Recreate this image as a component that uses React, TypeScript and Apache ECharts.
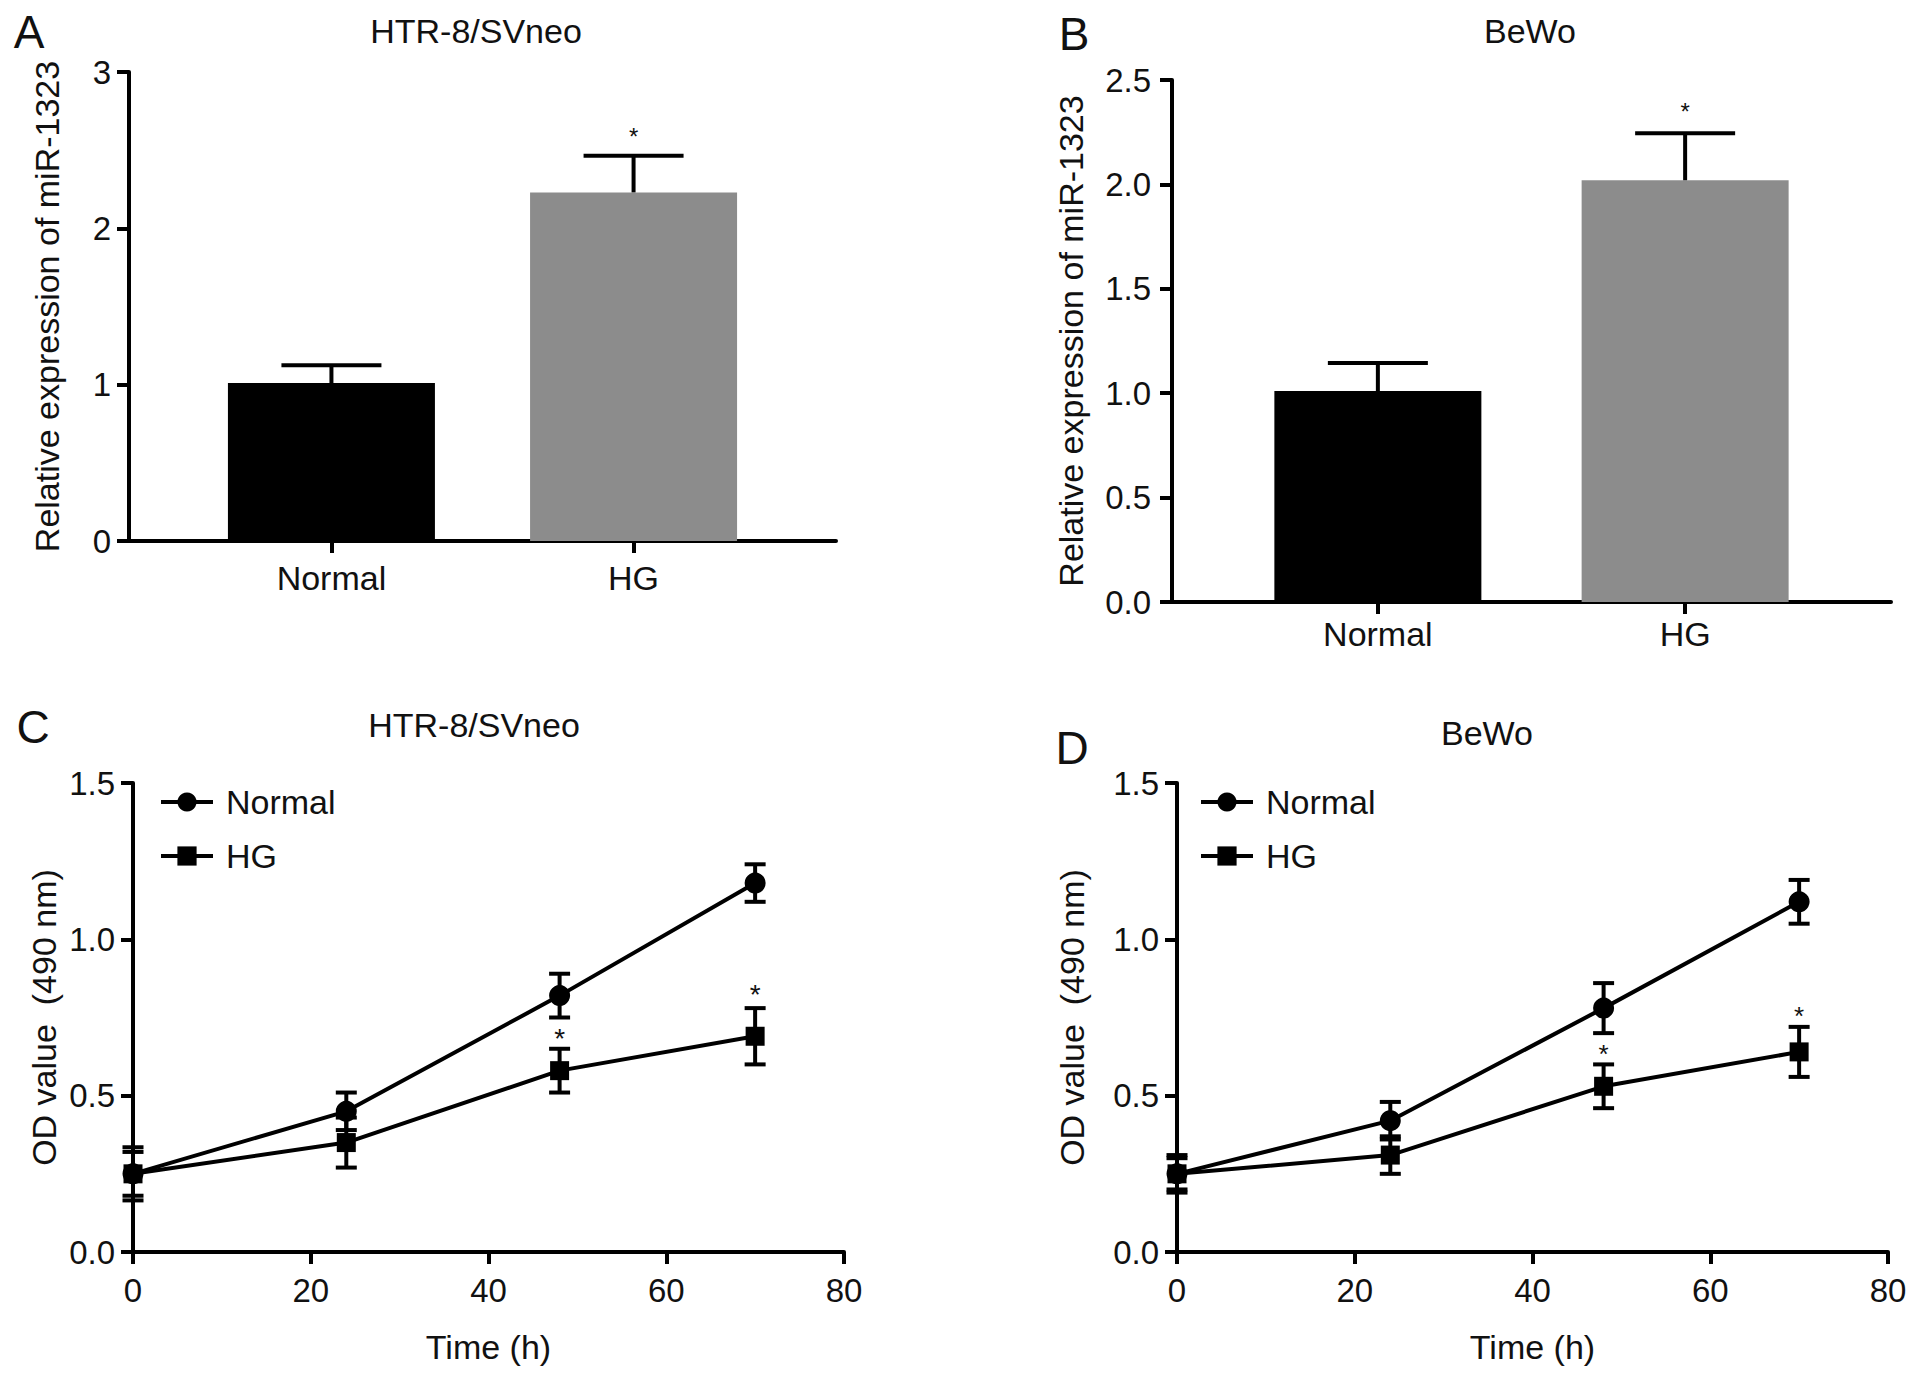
import { useEffect, useRef } from 'react';
import * as echarts from 'echarts';

// ---- data ----
const barCategories = ['Normal', 'HG'];
const barColors = ['#000000', '#8c8c8c'];

// panel A (HTR-8/SVneo, relative expression of miR-1323)
const aMeans = [1.01, 2.23];
const aErrors = [0.115, 0.235];
const aStar = 2.62;

// panel B (BeWo)
const bMeans = [1.01, 2.02];
const bErrors = [0.135, 0.225];
const bStar = 2.37;

// panels C/D: OD value (490 nm) over time
const timeH = [0, 24, 48, 70];
const starTimes = [48, 70];

const cNormal = [0.25, 0.45, 0.82, 1.18];
const cNormalErr = [0.07, 0.06, 0.07, 0.06];
const cHG = [0.25, 0.35, 0.58, 0.69];
const cHGErr = [0.085, 0.08, 0.07, 0.09];
const cStars = [0.7, 0.84];

const dNormal = [0.25, 0.42, 0.78, 1.12];
const dNormalErr = [0.06, 0.06, 0.08, 0.07];
const dHG = [0.25, 0.31, 0.53, 0.64];
const dHGErr = [0.05, 0.06, 0.07, 0.08];
const dStars = [0.65, 0.77];

const FONT = '"Liberation Sans", Arial, Helvetica, sans-serif';
const INK = '#111';

const errRender = (capW: number, upperOnly: boolean) => (_p: any, api: any) => {
  const x = api.value(0);
  const y = api.value(1);
  const e = api.value(2);
  const top = api.coord([x, y + e]);
  const base = api.coord([x, upperOnly ? y : y - e]);
  const s = { stroke: '#000', lineWidth: 4 };
  const children: any[] = [
    { type: 'line', shape: { x1: top[0], y1: top[1], x2: base[0], y2: base[1] }, style: s },
    { type: 'line', shape: { x1: top[0] - capW / 2, y1: top[1], x2: top[0] + capW / 2, y2: top[1] }, style: s },
  ];
  if (!upperOnly) {
    children.push({ type: 'line', shape: { x1: base[0] - capW / 2, y1: base[1], x2: base[0] + capW / 2, y2: base[1] }, style: s });
  }
  return { type: 'group', children };
};

const starRender = (size: number) => (_p: any, api: any) => {
  const p = api.coord([api.value(0), api.value(1)]);
  return {
    type: 'text',
    x: p[0],
    y: p[1] + size * 0.2,
    style: { text: '*', font: `${size}px ${FONT}`, textAlign: 'center', textVerticalAlign: 'middle', fill: INK },
  };
};

const axisBase = {
  axisLine: { onZero: false, lineStyle: { color: '#000', width: 4 } },
  axisTick: { length: 12, lineStyle: { color: '#000', width: 4 } },
  splitLine: { show: false },
};

const label = (size: number, margin: number) => ({ color: INK, fontSize: size, fontFamily: FONT, margin });
const nameStyle = { color: INK, fontSize: 34, fontFamily: FONT };

const catValues = barCategories.map((_, i) => i + 1);

function barXAxis(gridIndex: number, margin: number) {
  return {
    ...axisBase,
    gridIndex,
    type: 'value',
    min: 0.33,
    max: 2.67,
    axisTick: { ...axisBase.axisTick, customValues: catValues },
    axisLabel: { ...label(34, margin), customValues: catValues, formatter: (v: number) => barCategories[Math.round(v) - 1] ?? '' },
  };
}

function timeXAxis(gridIndex: number) {
  return {
    ...axisBase,
    gridIndex,
    type: 'value',
    min: 0,
    max: 80,
    interval: 20,
    axisLabel: label(33, 22),
    name: 'Time (h)',
    nameLocation: 'middle',
    nameGap: 78,
    nameTextStyle: nameStyle,
  };
}

function yAxis(gridIndex: number, max: number, interval: number, name: string, nameGap: number, decimals: number, margin: number) {
  return {
    ...axisBase,
    gridIndex,
    type: 'value',
    min: 0,
    max,
    interval,
    axisLabel: { ...label(33, margin), formatter: (v: number) => v.toFixed(decimals) },
    name,
    nameLocation: 'middle',
    nameGap,
    nameTextStyle: nameStyle,
  };
}

function barSeries(idx: number, means: number[]) {
  return {
    type: 'bar',
    xAxisIndex: idx,
    yAxisIndex: idx,
    barWidth: 207,
    data: means.map((v, i) => ({ value: [i + 1, v], itemStyle: { color: barColors[i] } })),
    z: 2,
  };
}

function barErr(idx: number, means: number[], errs: number[]) {
  return {
    type: 'custom',
    xAxisIndex: idx,
    yAxisIndex: idx,
    data: means.map((v, i) => [i + 1, v, errs[i]]),
    renderItem: errRender(100, true),
    z: 3,
  };
}

function starSeries(idx: number, pts: number[][], size: number) {
  return {
    type: 'custom',
    xAxisIndex: idx,
    yAxisIndex: idx,
    data: pts,
    renderItem: starRender(size),
    z: 5,
  };
}

function lineSeries(idx: number, name: string, vals: number[], symbol: string, size: number) {
  return {
    type: 'line',
    name,
    xAxisIndex: idx,
    yAxisIndex: idx,
    data: timeH.map((t, i) => [t, vals[i]]),
    symbol,
    symbolSize: size,
    lineStyle: { color: '#000', width: 4 },
    itemStyle: { color: '#000' },
    z: 4,
  };
}

function lineErr(idx: number, vals: number[], errs: number[]) {
  return {
    type: 'custom',
    xAxisIndex: idx,
    yAxisIndex: idx,
    data: timeH.map((t, i) => [t, vals[i], errs[i]]),
    renderItem: errRender(21, false),
    z: 3,
  };
}

function txt(text: string, x: number, y: number, size: number) {
  return {
    type: 'text',
    x,
    y,
    style: { text, font: `${size}px ${FONT}`, textAlign: 'center', textVerticalAlign: 'middle', fill: INK },
  };
}

function legend(left: number) {
  return {
    left,
    top: 780,
    orient: 'vertical',
    itemWidth: 52,
    itemHeight: 24,
    itemGap: 20,
    data: ['Normal', 'HG'],
    lineStyle: { width: 4, color: '#000' },
    textStyle: { color: INK, fontSize: 34, fontFamily: FONT, padding: [0, 0, 0, 8] },
  };
}

export default function App() {
  const ref = useRef<HTMLDivElement>(null);

  useEffect(() => {
    if (!ref.current) return;
    const chart = echarts.init(ref.current, undefined, { renderer: 'svg' });
    chart.setOption({
      animation: false,
      backgroundColor: '#fff',
      textStyle: { fontFamily: FONT },
      grid: [
        { left: 129, top: 72, width: 707, height: 469 },
        { left: 1172, top: 80, width: 719, height: 522 },
        { left: 133, top: 783, width: 711, height: 469 },
        { left: 1177, top: 783, width: 711, height: 469 },
      ],
      xAxis: [barXAxis(0, 20), barXAxis(1, 15), timeXAxis(2), timeXAxis(3)],
      yAxis: [
        yAxis(0, 3, 1, 'Relative expression of miR-1323', 65, 0, 18),
        yAxis(1, 2.5, 0.5, 'Relative expression of miR-1323', 84, 1, 21),
        yAxis(2, 1.5, 0.5, 'OD value  (490 nm)', 72, 1, 18),
        yAxis(3, 1.5, 0.5, 'OD value  (490 nm)', 88, 1, 18),
      ],
      legend: [legend(154), legend(1194)],
      graphic: [
        txt('A', 29, 32, 46),
        txt('B', 1074, 34, 46),
        txt('C', 33, 727, 46),
        txt('D', 1072, 748, 46),
        txt('HTR-8/SVneo', 476, 31, 34),
        txt('BeWo', 1530, 31, 34),
        txt('HTR-8/SVneo', 474, 725, 34),
        txt('BeWo', 1487, 733, 34),
      ],
      series: [
        barSeries(0, aMeans),
        barErr(0, aMeans, aErrors),
        starSeries(0, [[2, aStar]], 24),
        barSeries(1, bMeans),
        barErr(1, bMeans, bErrors),
        starSeries(1, [[2, bStar]], 24),

        lineErr(2, cNormal, cNormalErr),
        lineErr(2, cHG, cHGErr),
        lineSeries(2, 'Normal', cNormal, 'circle', 21),
        lineSeries(2, 'HG', cHG, 'rect', 19),
        starSeries(2, starTimes.map((t, i) => [t, cStars[i]]), 28),

        lineErr(3, dNormal, dNormalErr),
        lineErr(3, dHG, dHGErr),
        lineSeries(3, 'Normal', dNormal, 'circle', 21),
        lineSeries(3, 'HG', dHG, 'rect', 19),
        starSeries(3, starTimes.map((t, i) => [t, dStars[i]]), 26),
      ],
    });
    return () => chart.dispose();
  }, []);

  return <div ref={ref} style={{ position: 'absolute', left: 0, top: 0, width: 1913, height: 1377 }} />;
}
